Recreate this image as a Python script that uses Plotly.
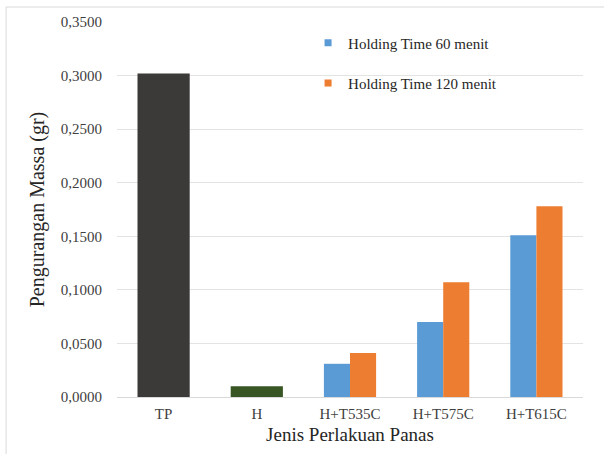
import plotly.graph_objects as go

categories = ["TP", "H", "H+T535C", "H+T575C", "H+T615C"]
tp_value = [0.302]
h_value = [0.010]
group_categories = ["H+T535C", "H+T575C", "H+T615C"]
ht60_values = [0.031, 0.070, 0.151]
ht120_values = [0.041, 0.107, 0.178]
series_names = ["Holding Time 60 menit", "Holding Time 120 menit"]

serif = "Liberation Serif"
blue = "#5b9bd5"
orange = "#ed7d31"

fig = go.Figure()
fig.add_trace(go.Bar(x=["TP"], y=tp_value, width=0.56, offset=-0.28,
                     marker=dict(color="#3b3a38", line=dict(width=0)), showlegend=False))
fig.add_trace(go.Bar(x=["H"], y=h_value, width=0.56, offset=-0.28,
                     marker=dict(color="#375623", line=dict(width=0)), showlegend=False))
fig.add_trace(go.Bar(x=group_categories, y=ht60_values, width=0.28, offset=-0.28,
                     marker=dict(color=blue, line=dict(width=0)), showlegend=False))
fig.add_trace(go.Bar(x=group_categories, y=ht120_values, width=0.28, offset=0.0,
                     marker=dict(color=orange, line=dict(width=0)), showlegend=False))

# legend entries
fig.add_trace(go.Scatter(x=[None], y=[None], mode="markers", name=series_names[0],
                         marker=dict(symbol="square", size=7, color=blue), legend="legend"))
fig.add_trace(go.Scatter(x=[None], y=[None], mode="markers", name=series_names[1],
                         marker=dict(symbol="square", size=7, color=orange), legend="legend2"))

legend_common = dict(font=dict(family=serif, size=15, color="#262626"),
                     bgcolor="rgba(0,0,0,0)", xanchor="left", yanchor="middle")

fig.update_layout(
    width=604, height=454,
    margin=dict(l=117, r=21, t=22, b=57),
    paper_bgcolor="white", plot_bgcolor="white",
    barmode="overlay",
    separators=", ",
    font=dict(family=serif, size=15, color="#404040"),
    legend=dict(x=0.41, y=0.944, **legend_common),
    legend2=dict(x=0.41, y=0.837, **legend_common),
    xaxis=dict(categoryorder="array", categoryarray=categories, range=[-0.5, 4.5],
               showgrid=False, showline=False, ticks="", ticklabelstandoff=6,
               tickfont=dict(family=serif, size=15, color="#404040"),
               title=dict(text="Jenis Perlakuan Panas", standoff=6,
                          font=dict(family=serif, size=19, color="#262626"))),
    yaxis=dict(range=[0, 0.35], dtick=0.05, tickformat=".4f",
               showgrid=True, gridcolor="#e3e3e3", gridwidth=1,
               zeroline=True, zerolinecolor="#d9d9d9", zerolinewidth=1,
               showline=False, ticks="", ticklabelstandoff=14,
               tickfont=dict(family=serif, size=15, color="#404040"),
               title=dict(text="Pengurangan Massa (gr)", standoff=10,
                          font=dict(family=serif, size=20, color="#262626"))),
    shapes=[dict(type="rect", xref="paper", yref="paper",
                 x0=-0.238, x1=1.2, y0=-0.3, y1=1.04,
                 line=dict(color="#d9d9d9", width=1), fillcolor="rgba(0,0,0,0)",
                 layer="below")],
)

fig.write_html("out.html", config={"displayModeBar": False},
               post_script="document.body.style.margin='0';")
